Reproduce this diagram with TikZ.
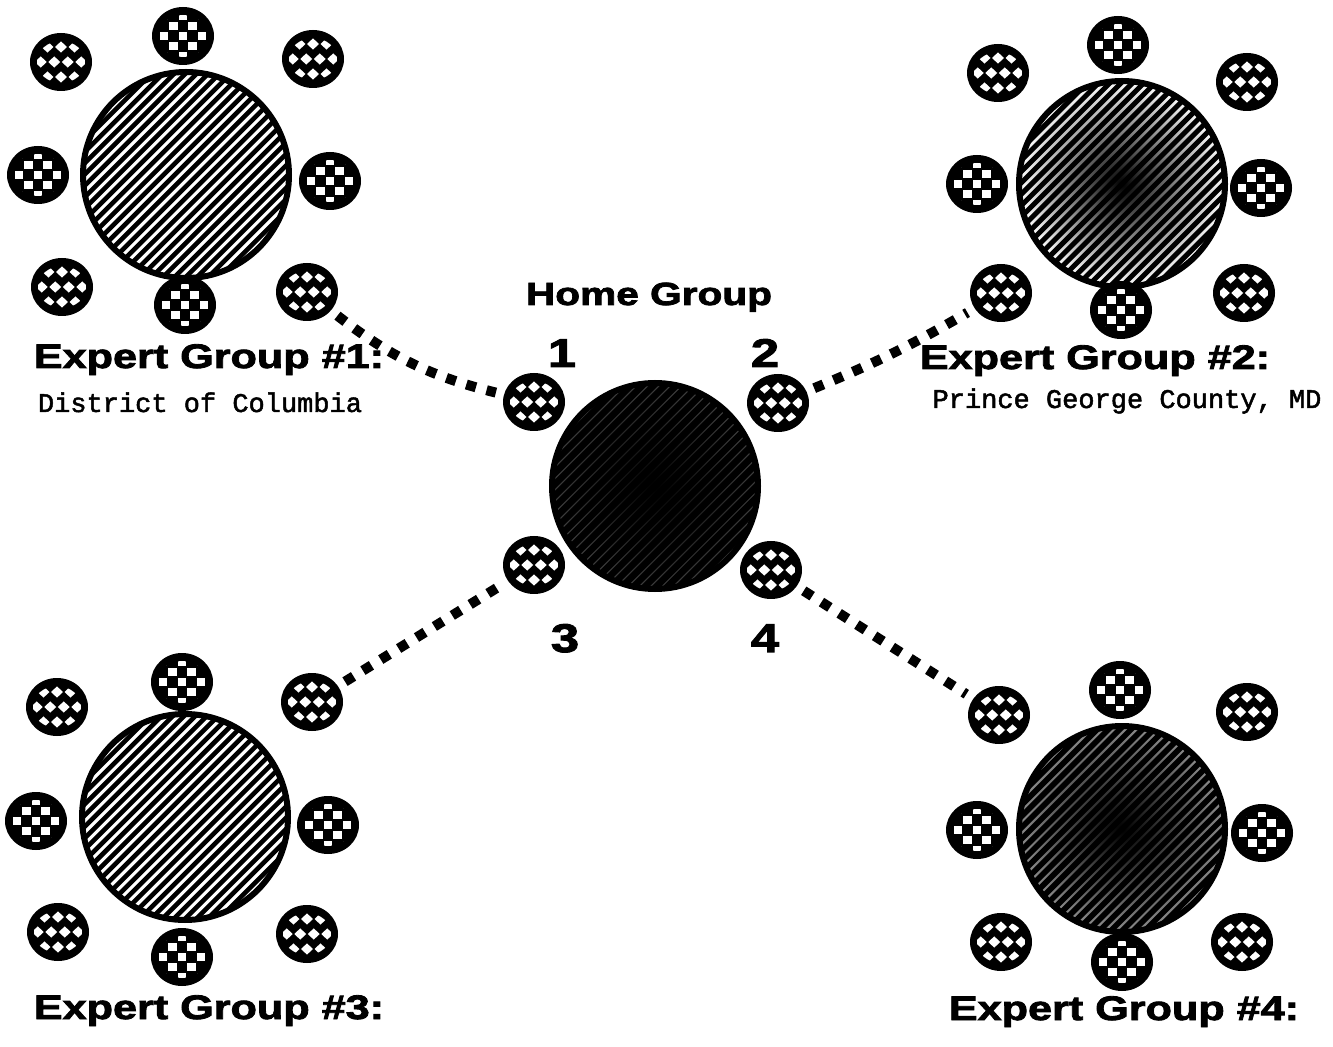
\documentclass[tikz,border=0pt]{standalone}
\usepackage{fontspec}
\usepackage{tikz}
\usetikzlibrary{shapes.geometric}
\newfontfamily\headfont[FakeStretch=1.27,FakeBold=2.5]{Liberation Sans Bold}
\newfontfamily\placefont[FakeBold=1.8]{Liberation Mono}

% white squares of a seat
\newcommand{\seatchecks}{%
  \begin{scope}[shift={(path picture bounding box.center)}, x=1pt, y=1pt]
    \clip (0,0) ellipse (12pt and 10.5pt);
    \foreach \m in {-2,...,2} \foreach \n in {-1,0,1} {
      \fill[white] (\m*9.5-2.2,\n*10-2.2) rectangle ++(4.4,4.4);
      \fill[white] (\m*9.5+2.55,\n*10+2.8) rectangle ++(4.4,4.4);
    }
  \end{scope}}
% white diamonds of a seat
\newcommand{\seatdiamonds}{%
  \begin{scope}[shift={(path picture bounding box.center)}, x=1pt, y=1pt]
    \clip (0,0) ellipse (12pt and 10.5pt);
    \foreach \m in {-2,...,2} \foreach \n in {-1,0,1} {
      \fill[white] (\m*6.75+3.375,\n*15) +(-3,0) -- +(0,2.8) -- +(3,0) -- +(0,-2.8) -- cycle;
      \fill[white] (\m*6.75,\n*15+7.5) +(-3,0) -- +(0,2.8) -- +(3,0) -- +(0,-2.8) -- cycle;
    }
  \end{scope}}
% slanted lines across a table
\newcommand{\hatchlines}[1]{%
  \begin{scope}[shift={(path picture bounding box.center)}, x=1pt, y=1pt]
    \foreach \k in {-14,...,14}
      \draw[black, line width=#1] (\k*5.657-60,-60) -- ++(120,120);
  \end{scope}}

\tikzset{
  seat/.style={ellipse, fill=black, inner sep=0pt, minimum width=31pt, minimum height=29pt},
  checkseat/.style={seat, path picture={\seatchecks}},
  diamondseat/.style={seat, path picture={\seatdiamonds}},
  table/.style={circle, draw=black, line width=3pt, minimum size=103pt, inner sep=0pt},
  lighthatch/.style={fill=white, path picture={\hatchlines{2.3pt}}},
  midhatch/.style={preaction={shade, inner color=black, outer color=white},
    path picture={\hatchlines{2.5pt}}},
  darkhatch/.style={preaction={shade, inner color=black, outer color=black!45},
    path picture={\hatchlines{2.8pt}}},
  homefill/.style={preaction={shade, inner color=black, outer color=black!75},
    path picture={\hatchlines{3.3pt}}},
  link/.style={line width=5pt, dash pattern=on 5pt off 5.5pt, shorten <=4pt, shorten >=4pt},
  grouptitle/.style={font=\headfont\fontsize{17}{19}\selectfont, anchor=base},
  hometitle/.style={font=\headfont\fontsize{16}{18}\selectfont, anchor=base},
  seatnum/.style={font=\headfont\fontsize{20}{22}\selectfont, anchor=base},
  placename/.style={font=\placefont\fontsize{13.5}{15}\selectfont, anchor=base},
}

\begin{document}
\begin{tikzpicture}[x=0.5pt, y=-0.5pt]
  \path[use as bounding box, fill=white] (0,0) rectangle (1333,1047);

  % expert group 1
  \node[table, lighthatch] (g1) at (186,175) {};
  \node[checkseat] (g1n) at (183,36) {};
  \node[diamondseat] (g1nw) at (61,62) {};
  \node[diamondseat] (g1ne) at (313,59) {};
  \node[checkseat] (g1w) at (38,175) {};
  \node[checkseat] (g1e) at (330,181) {};
  \node[diamondseat] (g1sw) at (62,287) {};
  \node[checkseat] (g1s) at (185,305) {};
  \node[diamondseat] (g1se) at (307,292) {};

  % expert group 2
  \node[table, midhatch] (g2) at (1122,184) {};
  \node[checkseat] (g2n) at (1118,45) {};
  \node[diamondseat] (g2nw) at (998,73) {};
  \node[diamondseat] (g2ne) at (1247,82) {};
  \node[checkseat] (g2w) at (977,184) {};
  \node[checkseat] (g2e) at (1261,188) {};
  \node[diamondseat] (g2sw) at (1001,293) {};
  \node[checkseat] (g2s) at (1121,310) {};
  \node[diamondseat] (g2se) at (1244,293) {};

  % expert group 3
  \node[table, lighthatch] (g3) at (185,817) {};
  \node[checkseat] (g3n) at (182,682) {};
  \node[diamondseat] (g3nw) at (57,707) {};
  \node[diamondseat] (g3ne) at (312,702) {};
  \node[checkseat] (g3w) at (36,821) {};
  \node[checkseat] (g3e) at (328,825) {};
  \node[diamondseat] (g3sw) at (58,932) {};
  \node[checkseat] (g3s) at (182,957) {};
  \node[diamondseat] (g3se) at (307,934) {};

  % expert group 4
  \node[table, darkhatch] (g4) at (1122,829) {};
  \node[checkseat] (g4n) at (1120,690) {};
  \node[diamondseat] (g4nw) at (999,715) {};
  \node[diamondseat] (g4ne) at (1247,712) {};
  \node[checkseat] (g4w) at (977,830) {};
  \node[checkseat] (g4e) at (1262,833) {};
  \node[diamondseat] (g4sw) at (1001,942) {};
  \node[checkseat] (g4s) at (1122,962) {};
  \node[diamondseat] (g4se) at (1242,942) {};

  % home group
  \node[table, homefill] (home) at (655,486) {};
  \node[diamondseat] (h1) at (534,402) {};
  \node[diamondseat] (h2) at (778,403) {};
  \node[diamondseat] (h3) at (534,565) {};
  \node[diamondseat] (h4) at (771,570) {};

  \draw[link] (g1se) to[bend right=12] (h1);
  \draw[link] (h2) to[bend right=4] (g2sw);
  \draw[link] (g3ne) -- (h3);
  \draw[link] (h4) -- (g4nw);

  \node[hometitle] (homelabel) at (649,305) {Home Group};
  \node[seatnum] (num1) at (562,367) {1};
  \node[seatnum] (num2) at (765,367) {2};
  \node[seatnum] (num3) at (565,652) {3};
  \node[seatnum] (num4) at (765,652) {4};

  \node[grouptitle] (title1) at (209,368) {Expert Group \#1:};
  \node[placename] (place1) at (200,412) {District of Columbia};
  \node[grouptitle] (title2) at (1095,369) {Expert Group \#2:};
  \node[placename] (place2) at (1127,408) {Prince George County, MD};
  \node[grouptitle] (title3) at (209,1019) {Expert Group \#3:};
  \node[grouptitle] (title4) at (1124,1020) {Expert Group \#4:};
\end{tikzpicture}
\end{document}
